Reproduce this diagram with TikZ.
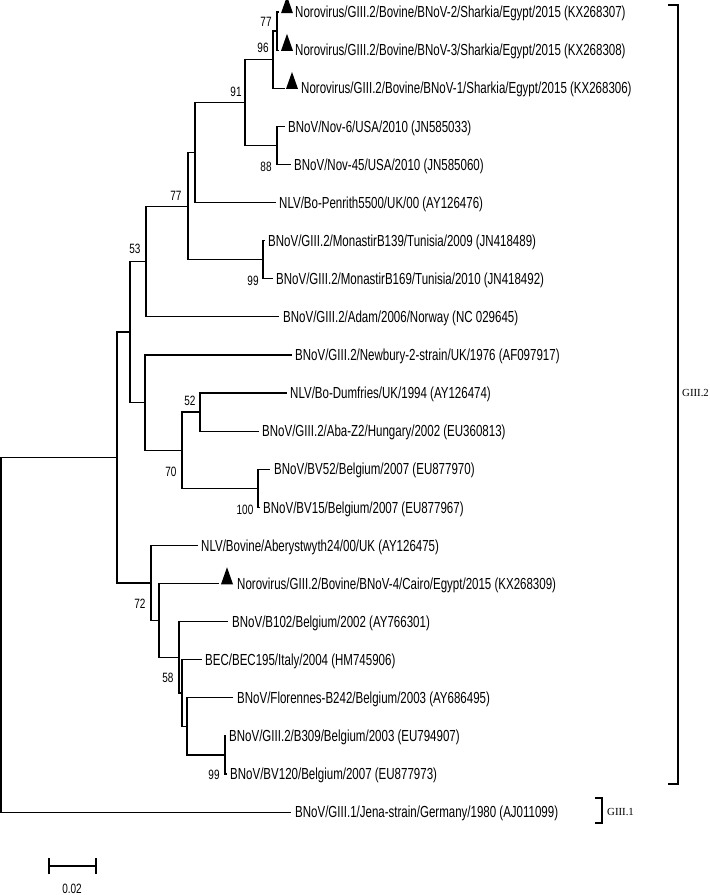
\documentclass[tikz,border=0pt]{standalone}
\usepackage{fontspec}
\setmainfont{Liberation Sans}
\newfontfamily\labfont[FakeStretch=0.72]{Liberation Sans}
\newfontfamily\bsfont[FakeStretch=0.74]{Liberation Sans}
\newfontfamily\serfont{Liberation Serif}
\usetikzlibrary{shapes.geometric}
\begin{document}
\begin{tikzpicture}[x=1pt,y=-1pt,
  br/.style={line width=1.2pt},
  lab/.style={anchor=west, inner sep=0pt, font=\labfont\fontsize{16}{19}\selectfont, text height=11.4pt, text depth=0pt},
  bs/.style={inner sep=0pt, font=\bsfont\fontsize{13.5}{16}\selectfont},
  mk/.style={isosceles triangle, isosceles triangle stretches, shape border rotate=90, fill=black, draw=none, inner sep=0pt, minimum width=12pt, minimum height=17pt},
  grp/.style={anchor=west, inner sep=0pt, font=\serfont\fontsize{10.8}{13}\selectfont}]
\useasboundingbox (0,0) rectangle (710,895);

% internal nodes
\coordinate (Na) at (277,31.05);
\coordinate (Nb) at (273,59.6);
\coordinate (Nc) at (277,145.35);
\coordinate (Nd) at (245,102.5);
\coordinate (Ne) at (195,152.5);
\coordinate (Nf) at (263,259.65);
\coordinate (Ng) at (188,206.1);
\coordinate (Nh) at (146,261.45);
\coordinate (Ni) at (200,412.05);
\coordinate (Nj) at (258,488.25);
\coordinate (Nk) at (182,450.15);
\coordinate (Nl) at (145,402.5);
\coordinate (Nm) at (130,332);
\coordinate (Nn) at (225,754.95);
\coordinate (No) at (187,726.4);
\coordinate (Np) at (182,693);
\coordinate (Nq) at (179,657.3);
\coordinate (Nr) at (159,620.4);
\coordinate (Ns) at (151,582.9);
\coordinate (Nu) at (117,457.45);
\coordinate (Nroot) at (1,634.8);

% tip ends
\coordinate (e1) at (279,12);
\coordinate (e2) at (279,50.1);
\coordinate (e3) at (285,88.2);
\coordinate (e4) at (285,126.3);
\coordinate (e5) at (291,164.4);
\coordinate (e6) at (276,202.5);
\coordinate (e7) at (265,240.6);
\coordinate (e8) at (273,278.7);
\coordinate (e9) at (279,316.8);
\coordinate (e10) at (292,354.9);
\coordinate (e11) at (287,393);
\coordinate (e12) at (259,431.1);
\coordinate (e13) at (270,469.2);
\coordinate (e14) at (260,507.3);
\coordinate (e15) at (198,545.4);
\coordinate (e16) at (219,583.5);
\coordinate (e17) at (228,621.6);
\coordinate (e18) at (202,659.7);
\coordinate (e19) at (233,697.8);
\coordinate (e20) at (226,735.9);
\coordinate (e21) at (227,774);
\coordinate (e22) at (291,812.1);

% markers
\node[mk] (m1) at (287,9) {};
\node[mk] (m2) at (287,46.6) {};
\node[mk] (m3) at (292,84.7) {};
\node[mk] (m16) at (227,580) {};

% tip labels
\node[lab] (t1) at (295,12) {Norovirus/GIII.2/Bovine/BNoV-2/Sharkia/Egypt/2015 (KX268307)};
\node[lab] (t2) at (295,50.1) {Norovirus/GIII.2/Bovine/BNoV-3/Sharkia/Egypt/2015 (KX268308)};
\node[lab] (t3) at (301,88.2) {Norovirus/GIII.2/Bovine/BNoV-1/Sharkia/Egypt/2015 (KX268306)};
\node[lab] (t4) at (288,126.3) {BNoV/Nov-6/USA/2010 (JN585033)};
\node[lab] (t5) at (294,164.4) {BNoV/Nov-45/USA/2010 (JN585060)};
\node[lab] (t6) at (279,202.5) {NLV/Bo-Penrith5500/UK/00 (AY126476)};
\node[lab] (t7) at (268,240.6) {BNoV/GIII.2/MonastirB139/Tunisia/2009 (JN418489)};
\node[lab] (t8) at (276,278.7) {BNoV/GIII.2/MonastirB169/Tunisia/2010 (JN418492)};
\node[lab] (t9) at (283,316.8) {BNoV/GIII.2/Adam/2006/Norway (NC 029645)};
\node[lab] (t10) at (295,354.9) {BNoV/GIII.2/Newbury-2-strain/UK/1976 (AF097917)};
\node[lab] (t11) at (290,393) {NLV/Bo-Dumfries/UK/1994 (AY126474)};
\node[lab] (t12) at (262,431.1) {BNoV/GIII.2/Aba-Z2/Hungary/2002 (EU360813)};
\node[lab] (t13) at (274,469.2) {BNoV/BV52/Belgium/2007 (EU877970)};
\node[lab] (t14) at (263,507.3) {BNoV/BV15/Belgium/2007 (EU877967)};
\node[lab] (t15) at (201,545.4) {NLV/Bovine/Aberystwyth24/00/UK (AY126475)};
\node[lab] (t16) at (237,583.5) {Norovirus/GIII.2/Bovine/BNoV-4/Cairo/Egypt/2015 (KX268309)};
\node[lab] (t17) at (232,621.6) {BNoV/B102/Belgium/2002 (AY766301)};
\node[lab] (t18) at (205,659.7) {BEC/BEC195/Italy/2004 (HM745906)};
\node[lab] (t19) at (237,697.8) {BNoV/Florennes-B242/Belgium/2003 (AY686495)};
\node[lab] (t20) at (229,735.9) {BNoV/GIII.2/B309/Belgium/2003 (EU794907)};
\node[lab] (t21) at (230,774) {BNoV/BV120/Belgium/2007 (EU877973)};
\node[lab] (t22) at (295,812.1) {BNoV/GIII.1/Jena-strain/Germany/1980 (AJ011099)};

% branches
\draw[br] (Na) |- (e1);
\draw[br] (Na) |- (e2);
\draw[br] (Nb) |- (Na);
\draw[br] (Nb) |- (e3);
\draw[br] (Nc) |- (e4);
\draw[br] (Nc) |- (e5);
\draw[br] (Nd) |- (Nb);
\draw[br] (Nd) |- (Nc);
\draw[br] (Ne) |- (Nd);
\draw[br] (Ne) |- (e6);
\draw[br] (Nf) |- (e7);
\draw[br] (Nf) |- (e8);
\draw[br] (Ng) |- (Ne);
\draw[br] (Ng) |- (Nf);
\draw[br] (Nh) |- (Ng);
\draw[br] (Nh) |- (e9);
\draw[br] (Ni) |- (e11);
\draw[br] (Ni) |- (e12);
\draw[br] (Nj) |- (e13);
\draw[br] (Nj) |- (e14);
\draw[br] (Nk) |- (Ni);
\draw[br] (Nk) |- (Nj);
\draw[br] (Nl) |- (e10);
\draw[br] (Nl) |- (Nk);
\draw[br] (Nm) |- (Nh);
\draw[br] (Nm) |- (Nl);
\draw[br] (Nn) |- (e20);
\draw[br] (Nn) |- (e21);
\draw[br] (No) |- (e19);
\draw[br] (No) |- (Nn);
\draw[br] (Np) |- (e18);
\draw[br] (Np) |- (No);
\draw[br] (Nq) |- (e17);
\draw[br] (Nq) |- (Np);
\draw[br] (Nr) |- (e16);
\draw[br] (Nr) |- (Nq);
\draw[br] (Ns) |- (e15);
\draw[br] (Ns) |- (Nr);
\draw[br] (Nu) |- (Nm);
\draw[br] (Nu) |- (Ns);
\draw[br] (Nroot) |- (Nu);
\draw[br] (Nroot) |- (e22);

% bootstrap values
\node[bs] (b77a) at (266,22) {77};
\node[bs] (b96) at (263,48) {96};
\node[bs] (b91) at (236,92) {91};
\node[bs] (b88) at (266,167) {88};
\node[bs] (b77b) at (176,196) {77};
\node[bs] (b53) at (135,249) {53};
\node[bs] (b99a) at (253,281) {99};
\node[bs] (b52) at (190,401) {52};
\node[bs] (b70) at (171,472) {70};
\node[bs] (b100) at (245,510) {100};
\node[bs] (b72) at (140,604) {72};
\node[bs] (b58) at (168,678) {58};
\node[bs] (b99b) at (214,775) {99};

% group brackets
\coordinate (g2a) at (668,5);
\coordinate (g2b) at (678,5);
\coordinate (g2c) at (678,784);
\coordinate (g2d) at (668,784);
\draw[br] (g2a) -- (g2b) -- (g2c) -- (g2d);
\node[grp] (G2) at (682,393) {GIII.2};
\coordinate (g1a) at (595,798);
\coordinate (g1b) at (602,798);
\coordinate (g1c) at (602,823);
\coordinate (g1d) at (595,823);
\draw[br] (g1a) -- (g1b) -- (g1c) -- (g1d);
\node[grp] (G1) at (607,812) {GIII.1};

% scale bar
\coordinate (sL) at (49,866);
\coordinate (sR) at (96,866);
\draw[br] (sL) -- (sR);
\draw[br] ([yshift=-8pt]sL) -- ([yshift=8pt]sL);
\draw[br] ([yshift=-8pt]sR) -- ([yshift=8pt]sR);
\node[bs] (sc) at (72,889) {0.02};
\end{tikzpicture}
\end{document}
